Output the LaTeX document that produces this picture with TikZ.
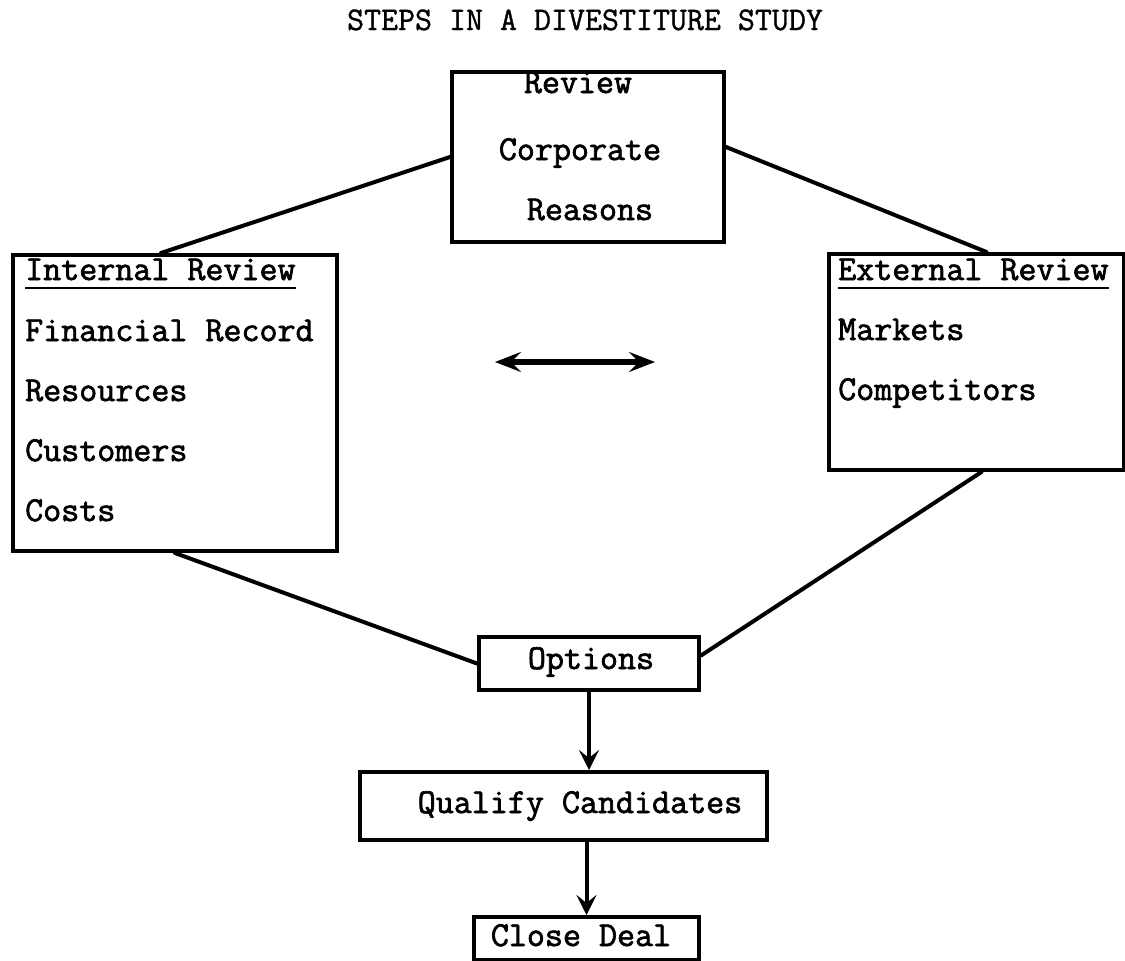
\documentclass[tikz,border=0pt]{standalone}
\usepackage{fontspec}
\usetikzlibrary{arrows.meta}
\newfontfamily\inkmono[FakeBold=2]{Latin Modern Mono}
\newfontfamily\titlemono[FakeBold=1]{Latin Modern Mono}
\newcommand\typeface{\inkmono\fontsize{35}{40}\selectfont}
\begin{document}
\begin{tikzpicture}[x=1pt,y=-1pt,
  box/.style={draw, line width=4pt, inner sep=0pt, anchor=north west},
  txt/.style={font=\typeface, inner sep=0pt, anchor=base west},
  ctxt/.style={txt, anchor=base},
  link/.style={line width=4pt, line cap=round},
  flow/.style={line width=4pt, -{Stealth[length=20pt,width=20pt,inset=8pt]}},
  both/.style={line width=5.5pt, {Stealth[length=26pt,width=20pt,inset=10pt]}-{Stealth[length=26pt,width=20pt,inset=10pt]}}]
\useasboundingbox (0,0) rectangle (1125,961);

% title
\node[ctxt, font=\titlemono\fontsize{33}{38}\selectfont] (title) at (585,30) {STEPS IN A DIVESTITURE STUDY};

% boxes
\node[box, minimum width=272pt, minimum height=170pt] (rev) at (450,70) {};
\node[box, minimum width=324pt, minimum height=296pt] (intl) at (11,253) {};
\node[box, minimum width=295pt, minimum height=216pt] (extl) at (827,252) {};
\node[box, minimum width=220pt, minimum height=53pt] (opt) at (477,635) {};
\node[box, minimum width=407pt, minimum height=68pt] (qual) at (358,770) {};
\node[box, minimum width=225pt, minimum height=43pt] (close) at (472,915) {};

% top box text
\node[ctxt] (t1) at (578,93) {Review};
\node[ctxt] (t2) at (580,160) {Corporate};
\node[ctxt] (t3) at (590,220) {Reasons};

% internal review
\node[txt] (ih) at (25,280) {Internal Review};
\draw[line width=2.2pt] ([yshift=-8pt]ih.base west) -- ([yshift=-8pt]ih.base east);
\node[txt] (i1) at (25,341) {Financial Record};
\node[txt] (i2) at (25,401) {Resources};
\node[txt] (i3) at (25,461) {Customers};
\node[txt] (i4) at (25,521) {Costs};

% external review
\node[txt] (eh) at (838,280) {External Review};
\draw[line width=2.2pt] ([yshift=-8pt]eh.base west) -- ([yshift=-8pt]eh.base east);
\node[txt] (e1) at (838,340) {Markets};
\node[txt] (e2) at (838,400) {Competitors};

% lower boxes text
\node[ctxt] (ot) at (591,669) {Options};
\node[ctxt] (qt) at (580,813) {Qualify Candidates};
\node[ctxt] (ct) at (581,946) {Close Deal};

% connectors
\draw[link] (rev.west) -- ([xshift=-14pt]intl.north);
\draw[link] ([yshift=10pt]rev.east) -- ([xshift=10pt]extl.north);
\draw[link] (intl.south) -- (opt.west);
\draw[link] ([xshift=5pt]extl.south) -- ([yshift=8pt]opt.east);

% interaction between the two reviews
\coordinate (da1) at (495,362);
\coordinate (da2) at (655,362);
\draw[both] (da1) -- (da2);

% flow
\draw[flow] (opt.south) -- (opt.south |- qual.north);
\draw[flow] (qual.south -| close.north) -- (close.north);
\end{tikzpicture}
\end{document}
